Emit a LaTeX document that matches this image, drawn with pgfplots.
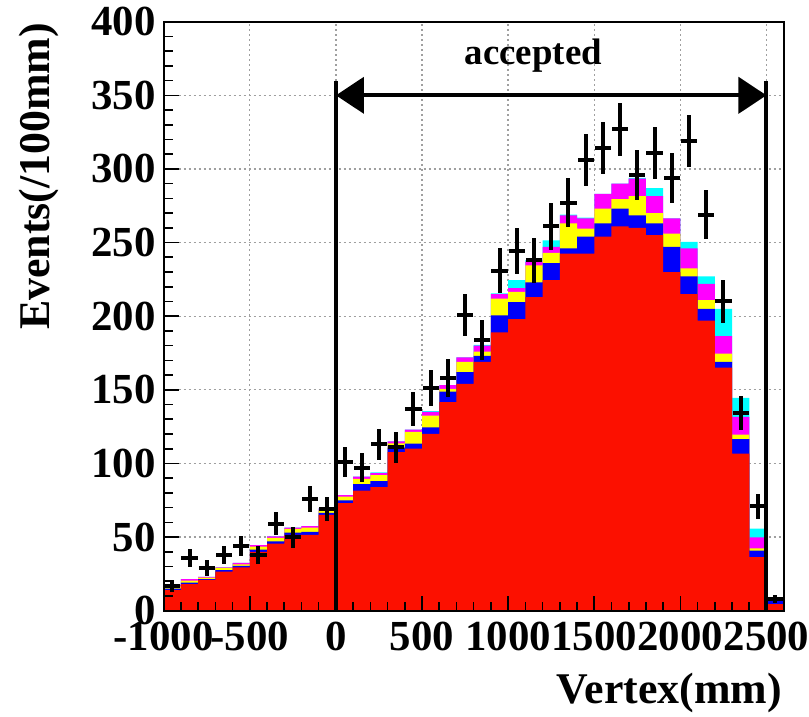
\documentclass[border=0pt]{standalone}
\usepackage{fontspec}
\setmainfont{Liberation Serif}
\usepackage{pgfplots}
\pgfplotsset{compat=1.18}
\usepackage{pgfplotstable}
\usetikzlibrary{arrows.meta}

\definecolor{hred}{RGB}{252,16,0}
\definecolor{hblue}{RGB}{0,0,250}
\definecolor{hyellow}{RGB}{255,255,0}
\definecolor{hmagenta}{RGB}{255,0,255}
\definecolor{hcyan}{RGB}{0,255,255}

% bin centre, components of the stacked histogram (red, blue, yellow, magenta, cyan)
\pgfplotstableread{
x r b y m c
-950 14 1 1.5 1 0
-850 18 1 1.5 1 0
-750 21 0.5 1 0.5 0
-650 26.5 1 1.5 0.5 0
-550 29.5 1 1 1 0
-450 40 1.5 2 1 0
-350 45.5 1.5 2.5 1 0
-250 51.5 1.5 2.5 1 0
-150 51.5 2 3 1 0
-50 65 1.5 2 1 0
50 73 2 2.5 1 0
150 81.5 4.5 3.5 1.5 0
250 84 4 4 1.5 0.5
350 107.7 3 3 1.3 0
450 110 3.5 8 1.5 0
550 120 4.5 8 2.5 0.5
650 141.7 7 2 2.5 0
750 154 8 7 3 0
850 169 4 3 4 0.5
950 189 11.5 11.5 3 0.5
1050 198 11.5 7 2.5 5.5
1150 213 10 11.5 2.5 1
1250 224.5 11.5 7 4 4.5
1350 242.5 3.5 17 5.5 0.5
1450 242.5 11.5 5.5 7 0.5
1550 254 9 10 10 0
1650 261 12 6.5 10.5 0
1750 260 8.5 13 12 0.5
1850 255 8 7 11.5 5.5
1950 230 17 9 10.5 0
2050 215 12 5.5 13.5 4.5
2150 197 8 6 11 5
2250 165 4 5.5 12 18.5
2350 106.6 10 3 12 13
2450 36.3 4.5 1.5 7.5 6
2550 4.5 3.5 0.5 0.5 0
}\histtab

% data: bin centre, counts, error
\pgfplotstableread{
x d e
-950 17 4.1
-850 36 6.0
-750 29 5.4
-650 38 6.2
-550 44 6.6
-450 38 6.2
-350 59 7.7
-250 50 7.1
-150 76 8.7
-50 69 8.3
50 101 10.0
150 97 9.8
250 113 10.6
350 111 10.5
450 137 11.7
550 151 12.3
650 158 12.6
750 201 14.2
850 184 13.6
950 231 15.2
1050 244 15.6
1150 238 15.4
1250 261 16.1
1350 277 16.6
1450 306 17.5
1550 314 17.7
1650 327 18.1
1750 296 17.2
1850 311 17.6
1950 294 17.1
2050 319 17.8
2150 269 16.4
2250 210 14.5
2350 134 11.6
2450 71 8.4
2550 8 2.8
}\datatab

\begin{document}
\begin{tikzpicture}
\pgfplotsset{
  common/.style={width=620bp,height=589bp,scale only axis,
    xmin=-1000,xmax=2600,ymin=0,ymax=400,
    xtick={-1000,-500,0,500,1000,1500,2000,2500},
    ytick={0,50,100,150,200,250,300,350,400}},
  histo/.style={ybar,bar width=100,bar shift=0pt,draw=none,fill=#1}
}
% background axis: grid and stacked histogram
\begin{axis}[common,name=bg,
  xticklabels={},yticklabels={},
  major tick length=0pt,
  grid=major,
  grid style={gray!75,line width=1.3bp,dash pattern=on 2bp off 3bp},
  axis line style={draw=none}]
\addplot[histo=hcyan] table[x=x,y expr=\thisrow{r}+\thisrow{b}+\thisrow{y}+\thisrow{m}+\thisrow{c}]{\histtab};
\addplot[histo=hmagenta] table[x=x,y expr=\thisrow{r}+\thisrow{b}+\thisrow{y}+\thisrow{m}]{\histtab};
\addplot[histo=hyellow] table[x=x,y expr=\thisrow{r}+\thisrow{b}+\thisrow{y}]{\histtab};
\addplot[histo=hblue] table[x=x,y expr=\thisrow{r}+\thisrow{b}]{\histtab};
\addplot[histo=hred] table[x=x,y=r]{\histtab};
\end{axis}
% foreground axis: frame, ticks, labels, data and annotations
\begin{axis}[common,name=main,
  xticklabels={-1000,-500,0,500,1000,1500,2000,2500},
  yticklabels={0,50,100,150,200,250,300,350,400},
  minor x tick num=4, minor y tick num=4,
  tick pos=left, tick align=inside,
  major tick length=15bp, minor tick length=9bp,
  every tick/.style={black,line width=1.6bp},
  axis line style={black,line width=2.2bp},
  xticklabel style={font=\fontsize{43}{43}\selectfont\bfseries,inner sep=0pt,yshift=-11bp},
  yticklabel style={font=\fontsize{43}{43}\selectfont\bfseries,inner sep=0pt,xshift=-8bp},
  xlabel={Vertex(mm)},
  ylabel={Events(/100mm)},
  every axis x label/.style={at={(axis description cs:0.997,-0.158)},anchor=base east,
     font=\fontsize{44}{44}\selectfont\bfseries,inner sep=0pt},
  every axis y label/.style={at={(axis description cs:-0.234,0.998)},rotate=90,anchor=north east,
     font=\fontsize{44}{44}\selectfont\bfseries,inner sep=0pt},
  clip=false]
\addplot[only marks,mark=none,black,
  error bars/.cd,y dir=both,y explicit,x dir=both,x fixed=47,error mark=none,
  error bar style={line width=4bp,black}]
  table[x=x,y=d,y error=e]{\datatab};
\draw[line width=4bp] (axis cs:0,0) -- (axis cs:0,360);
\draw[line width=4bp] (axis cs:2500,0) -- (axis cs:2500,360);
\draw[line width=4bp,{Triangle[length=28bp,width=36bp]}-{Triangle[length=28bp,width=36bp]}]
  (axis cs:0,350) -- (axis cs:2500,350);
\node[font=\fontsize{37}{37}\selectfont\bfseries,anchor=base,inner sep=0pt] at (axis cs:1146,371) {accepted};
\end{axis}
\pgfresetboundingbox
\path[use as bounding box] ([xshift=-163.7bp,yshift=-106.3bp]main.south west) rectangle ++(809bp,717bp);
\end{tikzpicture}
\end{document}
